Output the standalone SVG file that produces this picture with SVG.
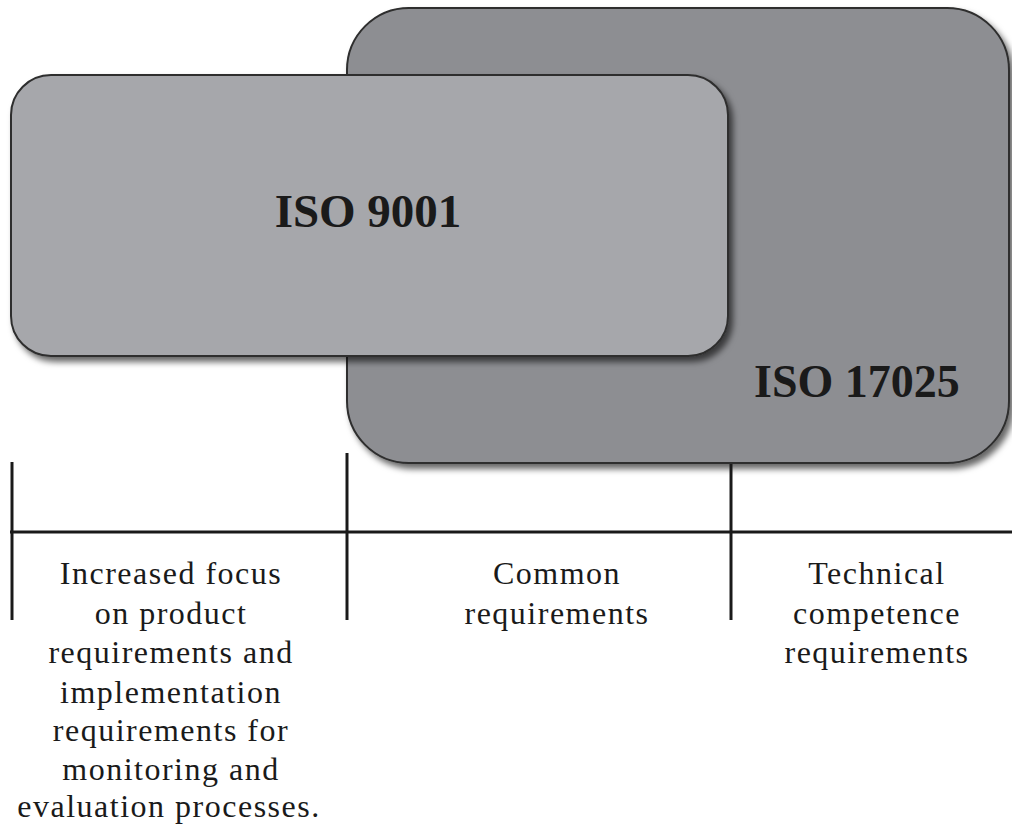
<svg xmlns="http://www.w3.org/2000/svg" width="1012" height="828" viewBox="0 0 1012 828">
<defs>
<filter id="sh" x="-5%" y="-5%" width="115%" height="115%">
<feDropShadow dx="4" dy="5" stdDeviation="3" flood-color="#000" flood-opacity="0.6"/>
</filter>
<style>
.box{stroke:#2e2e2e;stroke-width:2;filter:url(#sh)}
.title{font-family:"Liberation Serif",serif;font-weight:bold;fill:#1a1a1a}
.lbl{font-family:"Liberation Serif",serif;font-size:32px;letter-spacing:1.5px;fill:#1a1a1a;text-anchor:middle}
.ln{stroke:#1a1a1a;stroke-width:3;fill:none}
</style>
</defs>
<rect width="1012" height="828" fill="#fff"/>
<g id="iso17025">
<rect class="box" x="347" y="8" width="662" height="455" rx="62" ry="62" fill="#8d8e92"/>
<text class="title" x="857" y="397" font-size="46" text-anchor="middle">ISO 17025</text>
</g>
<g id="iso9001">
<rect class="box" x="11" y="75" width="717" height="281" rx="40" ry="40" fill="#a6a7ab"/>
<text class="title" x="368" y="227" font-size="47" text-anchor="middle">ISO 9001</text>
</g>
<g id="connectors">
<line class="ln" x1="10" y1="532" x2="1012" y2="532" stroke-width="4"/>
<line class="ln" x1="12" y1="462" x2="12" y2="620"/>
<line class="ln" x1="347" y1="453" x2="347" y2="620"/>
<line class="ln" x1="731" y1="464" x2="731" y2="620"/>
</g>
<g id="col-left">
<text class="lbl"><tspan x="171" y="584">Increased focus</tspan><tspan x="171" y="624">on product</tspan><tspan x="171" y="663">requirements and</tspan><tspan x="171" y="703">implementation</tspan><tspan x="171" y="741">requirements for</tspan><tspan x="171" y="780">monitoring and</tspan><tspan x="169" y="817">evaluation processes.</tspan></text>
</g>
<g id="col-mid">
<text class="lbl"><tspan x="557" y="584">Common</tspan><tspan x="557" y="624">requirements</tspan></text>
</g>
<g id="col-right">
<text class="lbl"><tspan x="877" y="584">Technical</tspan><tspan x="877" y="624">competence</tspan><tspan x="877" y="663">requirements</tspan></text>
</g>
</svg>
